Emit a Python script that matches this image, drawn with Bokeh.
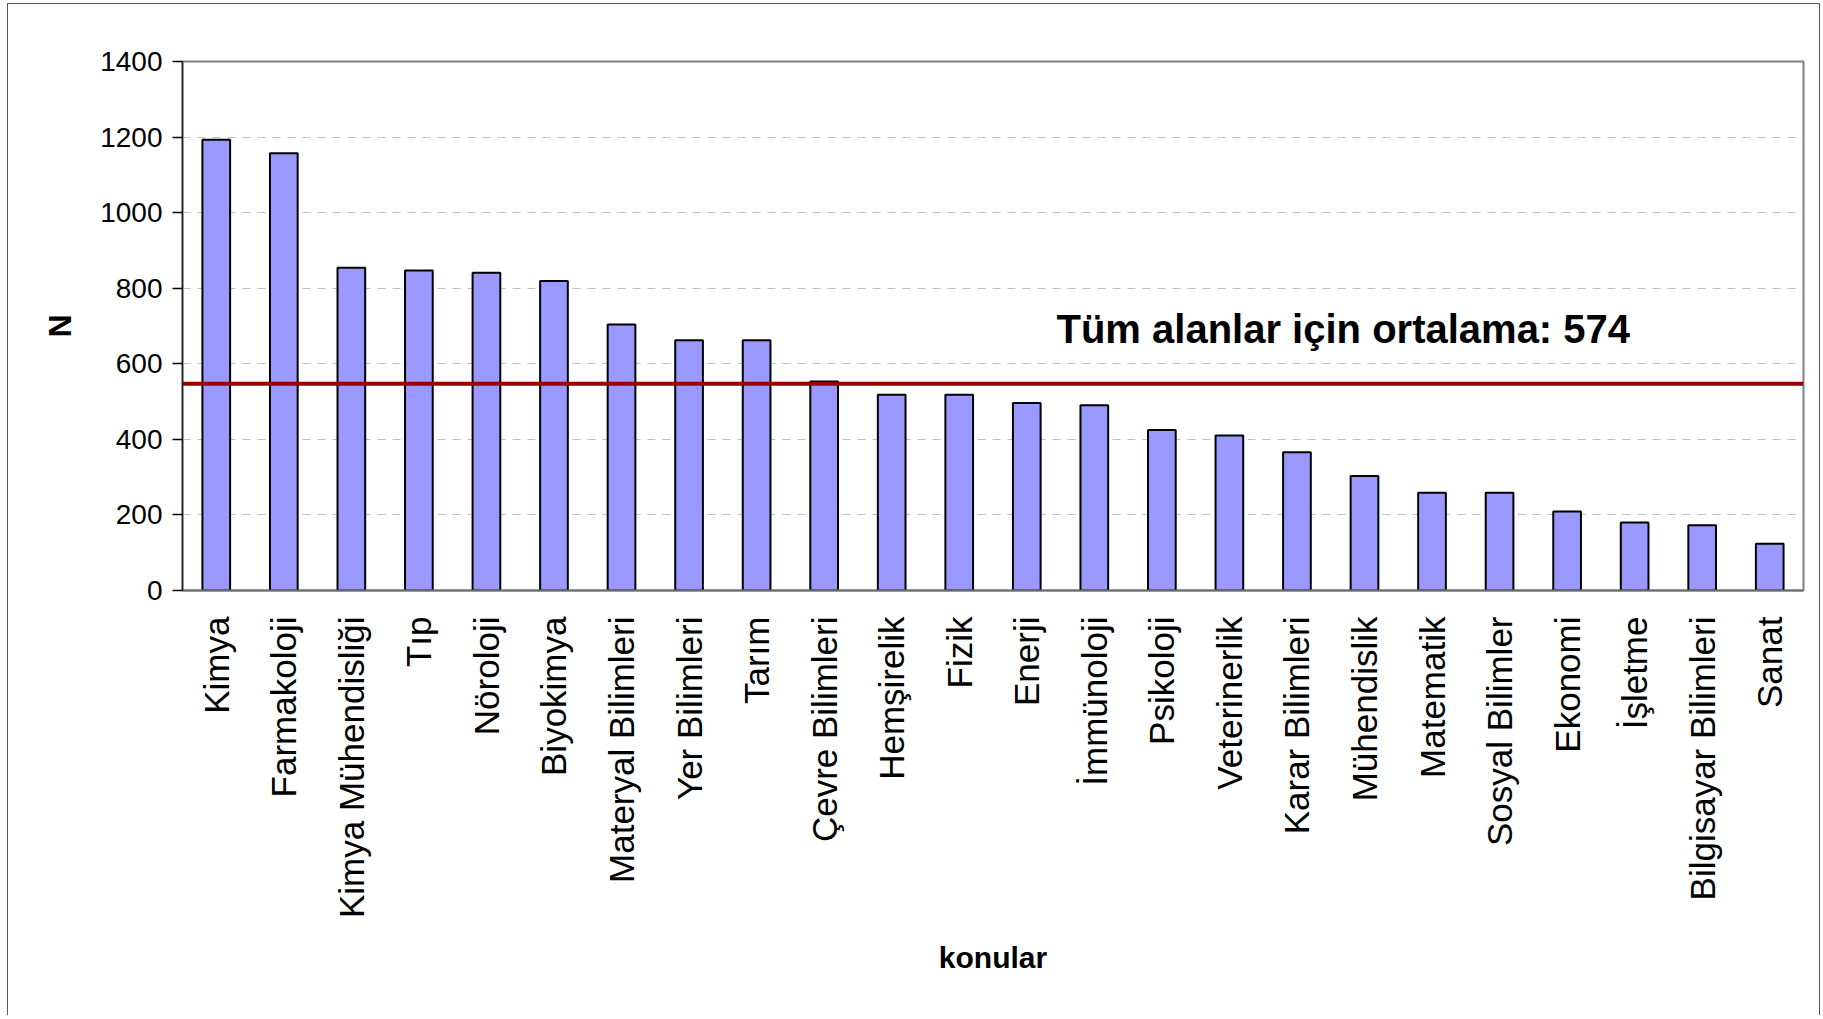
import math
from bokeh.plotting import figure
from bokeh.models import FactorRange, Range1d, FixedTicker, Span, Label, ColumnDataSource
from bokeh.embed import file_html
from bokeh.resources import INLINE

categories = ["Kimya", "Farmakoloji", "Kimya Mühendisliği", "Tıp", "Nöroloji", "Biyokimya",
              "Materyal Bilimleri", "Yer Bilimleri", "Tarım", "Çevre Bilimleri", "Hemşirelik",
              "Fizik", "Enerji", "İmmünoloji", "Psikoloji", "Veterinerlik", "Karar Bilimleri",
              "Mühendislik", "Matematik", "Sosyal Bilimler", "Ekonomi", "İşletme",
              "Bilgisayar Bilimleri", "Sanat"]
values = [1193, 1157, 854, 847, 841, 819, 704, 662, 662, 553, 518, 518, 496, 490,
          425, 410, 366, 303, 259, 259, 209, 180, 173, 124]
mean_line_value = 547
mean_label = "Tüm alanlar için ortalama: 574"
y_ticks = [0, 200, 400, 600, 800, 1000, 1200, 1400]

FONT = "Liberation Sans"

src = ColumnDataSource(dict(cat=categories, val=values))

p = figure(x_range=FactorRange(*categories, range_padding=0),
           y_range=Range1d(0, 1400),
           width=1813, height=1012,
           output_backend="svg", toolbar_location=None,
           min_border_left=174, min_border_right=18,
           min_border_top=57, min_border_bottom=426)
p.styles = {"border-top": "1px solid #555555", "border-left": "1px solid #555555",
            "border-right": "1px solid #555555",
            "margin-left": "7px", "margin-top": "3px"}

p.vbar(x="cat", top="val", width=0.41, source=src,
       fill_color="#9999FF", line_color="black", line_width=2)

p.add_layout(Span(location=mean_line_value, dimension="width",
                  line_color="#990000", line_width=4))

p.add_layout(Label(x=12.94, y=692, text=mean_label, text_baseline="alphabetic",
                   text_font=FONT, text_font_style="bold", text_font_size="40px",
                   text_color="black"))

p.background_fill_color = "white"
p.border_fill_color = "white"
p.outline_line_color = "#808080"
p.outline_line_width = 2

p.xgrid.grid_line_color = None
p.ygrid.grid_line_color = "#c0c0c0"
p.ygrid.grid_line_dash = "8 7"
p.ygrid.grid_line_width = 1

p.yaxis.ticker = FixedTicker(ticks=y_ticks)
p.yaxis.minor_tick_line_color = None
p.yaxis.major_tick_out = 10
p.yaxis.major_tick_in = 0
p.yaxis.major_tick_line_color = "black"
p.yaxis.major_tick_line_width = 1.5
p.yaxis.axis_line_color = "#222222"
p.yaxis.axis_line_width = 1.5
p.yaxis.major_label_standoff = 10
p.yaxis.major_label_text_font = FONT
p.yaxis.major_label_text_font_size = "28px"
p.yaxis.major_label_text_color = "black"
p.yaxis.axis_label = "N"
p.yaxis.axis_label_text_font = FONT
p.yaxis.axis_label_text_font_style = "bold"
p.yaxis.axis_label_text_font_size = "32px"
p.yaxis.axis_label_text_color = "black"
p.yaxis.axis_label_standoff = 19

p.xaxis.major_tick_line_color = None
p.xaxis.major_tick_out = 0
p.xaxis.major_tick_in = 0
p.xaxis.minor_tick_line_color = None
p.xaxis.axis_line_color = "#707070"
p.xaxis.axis_line_width = 2
p.xaxis.major_label_orientation = math.pi / 2
p.xaxis.major_label_standoff = 26
p.xaxis.major_label_text_font = FONT
p.xaxis.major_label_text_font_size = "35px"
p.xaxis.major_label_text_color = "black"
p.xaxis.axis_label = "konular"
p.xaxis.axis_label_text_font = FONT
p.xaxis.axis_label_text_font_style = "bold"
p.xaxis.axis_label_text_font_size = "30px"
p.xaxis.axis_label_text_color = "black"
p.xaxis.axis_label_standoff = 20

open("out.html", "w").write(file_html(p, INLINE))
